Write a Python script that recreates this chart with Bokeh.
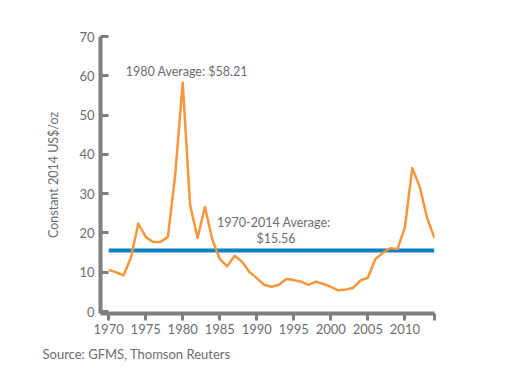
from bokeh.plotting import figure
from bokeh.models import Range1d, FixedTicker, Label, Title
from bokeh.embed import file_html
from bokeh.resources import INLINE

years = list(range(1970, 2015))
prices = [10.6, 10.0, 9.2, 13.6, 22.4, 19.0, 17.7, 17.7, 19.0, 35.0,
          58.21, 27.1, 18.7, 26.6, 18.3, 13.4, 11.5, 14.2, 12.7, 10.1,
          8.5, 6.8, 6.3, 6.8, 8.3, 8.0, 7.6, 6.8, 7.6, 7.0,
          6.3, 5.4, 5.6, 6.0, 7.9, 8.6, 13.3, 14.9, 16.1, 15.9,
          21.4, 36.5, 31.8, 23.8, 18.7]
average_all = 15.56
avg_label_1980 = "1980 Average: $58.21"
avg_label_all_1 = "1970-2014 Average:"
avg_label_all_2 = "$15.56"
x_ticks = [1970, 1975, 1980, 1985, 1990, 1995, 2000, 2005, 2010, 2014]
y_ticks = [0, 10, 20, 30, 40, 50, 60, 70]

FONT = "Lato"
GRAY = "#6d6e71"
AXIS = "#7f7f7f"

p = figure(width=521, height=368, output_backend="svg", toolbar_location=None,
           x_range=Range1d(1968.9, 2014), y_range=Range1d(-0.5, 70),
           min_border_left=100, min_border_right=87, min_border_top=36, min_border_bottom=10)
p.outline_line_color = None
p.grid.grid_line_color = None
p.background_fill_color = "white"

p.line(x=[years[0], years[-1]], y=[average_all, average_all], line_color="#0f7fc3", line_width=4)
p.line(x=years, y=prices, line_color="#f7963d", line_width=2.5, line_join="round")

xa = p.xaxis[0]
xa.ticker = FixedTicker(ticks=x_ticks)
xa.major_label_overrides = {2014: ""}
xa.minor_tick_line_color = None
xa.axis_line_color = AXIS
xa.axis_line_width = 4
xa.major_tick_line_color = AXIS
xa.major_tick_line_width = 3
xa.major_tick_in = 0
xa.major_tick_out = 7
xa.major_label_standoff = 3
xa.major_label_text_font = FONT
xa.major_label_text_font_size = "13px"
xa.major_label_text_color = GRAY

ya = p.yaxis[0]
ya.ticker = FixedTicker(ticks=y_ticks)
ya.minor_tick_line_color = None
ya.axis_line_color = AXIS
ya.axis_line_width = 4
ya.major_tick_line_color = AXIS
ya.major_tick_line_width = 3
ya.major_tick_in = 8
ya.major_tick_out = 0
ya.major_label_standoff = 6
ya.major_label_text_font = FONT
ya.major_label_text_font_size = "13px"
ya.major_label_text_color = GRAY
ya.axis_label = "Constant 2014 US$/oz"
ya.axis_label_text_font = FONT
ya.axis_label_text_font_style = "normal"
ya.axis_label_text_font_size = "12.5px"
ya.axis_label_text_color = GRAY
ya.axis_label_standoff = 15

p.add_layout(Label(x=1972.3, y=61.2, text=avg_label_1980, text_font=FONT,
                   text_font_size="12.5px", text_color=GRAY, text_baseline="middle"))
p.add_layout(Label(x=1992.3, y=22.7, text=avg_label_all_1, text_font=FONT,
                   text_font_size="12.5px", text_color=GRAY, text_align="center", text_baseline="middle"))
p.add_layout(Label(x=1992.6, y=18.7, text=avg_label_all_2, text_font=FONT,
                   text_font_size="12.5px", text_color=GRAY, text_align="center", text_baseline="middle"))
p.add_layout(Title(text="Source: GFMS, Thomson Reuters", align="left", offset=-58,
                   text_font=FONT, text_font_size="13px", text_color=GRAY,
                   text_font_style="normal", standoff=14), "below")

open("out.html", "w").write(file_html(p, INLINE))
